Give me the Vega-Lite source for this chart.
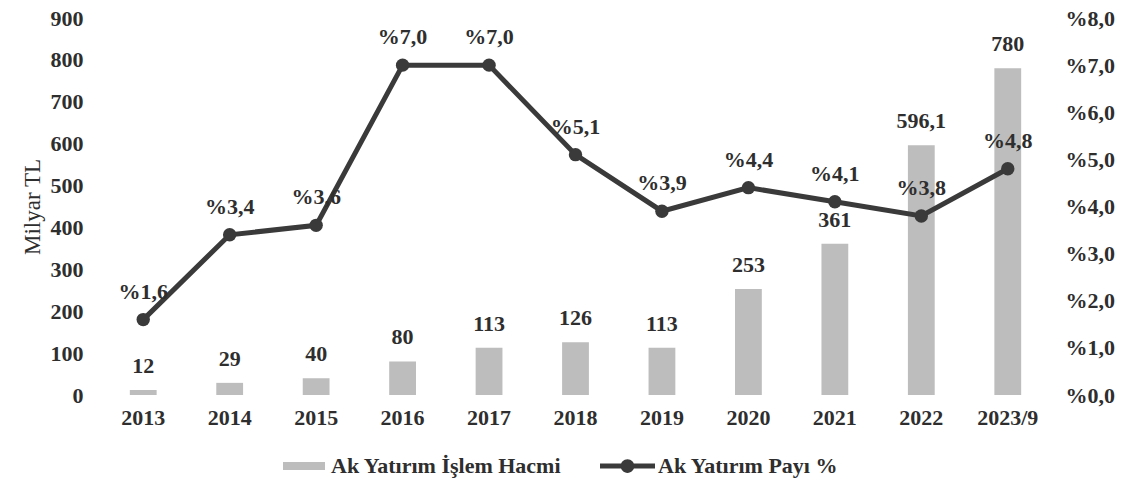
{
  "$schema": "https://vega.github.io/schema/vega-lite/v6.json",
  "width": 951,
  "height": 377,
  "autosize": {"type": "none"},
  "padding": {"left": 100, "top": 18, "right": 72, "bottom": 91},
  "background": "white",
  "config": {
    "view": {"stroke": null},
    "font": "Liberation Serif",
    "axis": {"domain": false, "ticks": false, "grid": false, "labelFont": "Liberation Serif", "labelFontSize": 22, "labelFontWeight": "bold", "labelColor": "#2e2e2e", "titleFont": "Liberation Serif", "titleColor": "#2e2e2e"}
  },
  "data": {
    "values": [
      {"year": "2013", "value": 12, "vlabel": "12", "pay": 1.6, "plabel": "%1,6"},
      {"year": "2014", "value": 29, "vlabel": "29", "pay": 3.4, "plabel": "%3,4"},
      {"year": "2015", "value": 40, "vlabel": "40", "pay": 3.6, "plabel": "%3,6"},
      {"year": "2016", "value": 80, "vlabel": "80", "pay": 7.0, "plabel": "%7,0"},
      {"year": "2017", "value": 113, "vlabel": "113", "pay": 7.0, "plabel": "%7,0"},
      {"year": "2018", "value": 126, "vlabel": "126", "pay": 5.1, "plabel": "%5,1"},
      {"year": "2019", "value": 113, "vlabel": "113", "pay": 3.9, "plabel": "%3,9"},
      {"year": "2020", "value": 253, "vlabel": "253", "pay": 4.4, "plabel": "%4,4"},
      {"year": "2021", "value": 361, "vlabel": "361", "pay": 4.1, "plabel": "%4,1"},
      {"year": "2022", "value": 596.1, "vlabel": "596,1", "pay": 3.8, "plabel": "%3,8"},
      {"year": "2023/9", "value": 780, "vlabel": "780", "pay": 4.8, "plabel": "%4,8"}
    ]
  },
  "encoding": {
    "x": {
      "field": "year", "type": "nominal", "sort": null,
      "scale": {"paddingInner": 0.69, "paddingOuter": 0.345},
      "axis": {"title": null, "labelAngle": 0, "labelPadding": 12}
    }
  },
  "layer": [
    {
      "encoding": {
        "y": {
          "field": "value", "type": "quantitative",
          "scale": {"domain": [0, 900], "nice": false},
          "axis": {"values": [0, 100, 200, 300, 400, 500, 600, 700, 800, 900], "labelPadding": 17, "title": "Milyar TL", "titleFontSize": 23, "titleFontWeight": "normal", "titlePadding": 6}
        }
      },
      "layer": [
        {
          "mark": {"type": "bar"},
          "encoding": {
            "fill": {
              "datum": "Ak Yatırım İşlem Hacmi", "type": "nominal",
              "scale": {"range": ["#bdbdbd"]},
              "legend": {
                "title": null, "orient": "none", "legendX": 183, "legendY": 427,
                "labelFont": "Liberation Serif", "labelFontSize": 22, "labelFontWeight": "bold", "labelColor": "#2e2e2e", "labelLimit": 0,
                "symbolType": "M-1,-0.19H1V0.19H-1Z", "symbolSize": 1764, "symbolStrokeWidth": 0, "labelOffset": 6
              }
            }
          }
        },
        {
          "mark": {"type": "text", "dy": -24, "baseline": "middle", "fontSize": 22, "fontWeight": "bold", "font": "Liberation Serif", "color": "#2e2e2e"},
          "encoding": {"text": {"field": "vlabel"}}
        }
      ]
    },
    {
      "encoding": {
        "y": {
          "field": "pay", "type": "quantitative",
          "scale": {"domain": [0, 8], "nice": false},
          "axis": {"orient": "right", "values": [0, 1, 2, 3, 4, 5, 6, 7, 8], "labelPadding": 14, "title": null, "labelExpr": "'%' + replace(format(datum.value, '.1f'), '.', ',')"}
        }
      },
      "layer": [
        {
          "mark": {"type": "line", "strokeWidth": 5},
          "encoding": {
            "stroke": {
              "datum": "Ak Yatırım Payı %", "type": "nominal",
              "scale": {"range": ["#3a3a3a"]},
              "legend": {
                "title": null, "orient": "none", "legendX": 500, "legendY": 420.5,
                "labelFont": "Liberation Serif", "labelFontSize": 22, "labelFontWeight": "bold", "labelColor": "#2e2e2e", "labelLimit": 0,
                "symbolType": "M-1,-0.09H-0.2V0.09H-1Z M0.2,-0.09H1V0.09H0.2Z M-0.25,0 A0.25,0.25 0 1,1 0.25,0 A0.25,0.25 0 1,1 -0.25,0Z",
                "symbolSize": 3025, "labelOffset": 3,
                "encode": {"symbols": {"update": {"fill": {"value": "#3a3a3a"}, "stroke": {"value": "#3a3a3a"}, "strokeWidth": {"value": 0}}}}
              }
            }
          }
        },
        {
          "mark": {"type": "point", "filled": true, "size": 180, "color": "#3a3a3a", "opacity": 1}
        },
        {
          "mark": {"type": "text", "dy": -28, "baseline": "middle", "fontSize": 22, "fontWeight": "bold", "font": "Liberation Serif", "color": "#2e2e2e"},
          "encoding": {"text": {"field": "plabel"}}
        }
      ]
    }
  ],
  "resolve": {"scale": {"y": "independent"}}
}
